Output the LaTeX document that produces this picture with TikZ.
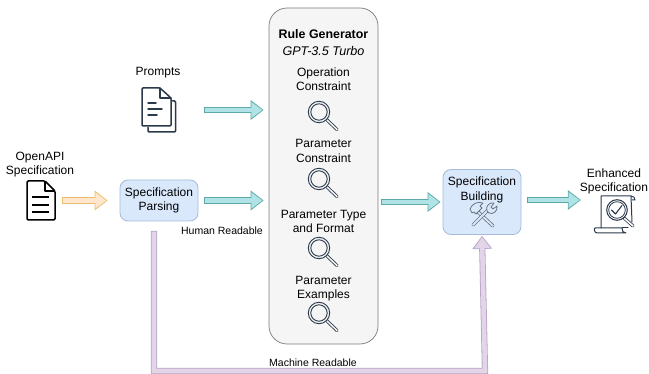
\documentclass[tikz,border=0pt]{standalone}
\usepackage{fontspec}
\setmainfont{Liberation Sans}
\usetikzlibrary{arrows.meta}
\definecolor{tealD}{HTML}{5FA8A8}
\definecolor{tealL}{HTML}{B0E3E6}
\definecolor{orangeD}{HTML}{E9BE6C}
\definecolor{orangeL}{HTML}{FFE6CC}
\definecolor{purpleD}{HTML}{B8A2C8}
\definecolor{purpleL}{HTML}{E1D5E7}
\definecolor{blueD}{HTML}{A3BBD8}
\definecolor{blueL}{HTML}{DAE8FC}
\definecolor{slateI}{HTML}{2B3A4A}
\definecolor{panelF}{HTML}{F5F5F5}
\definecolor{panelD}{HTML}{7A7A7A}
\tikzset{
  x=1pt,y=-1pt,
  lbl/.style={font=\fontsize{12}{14.3}\selectfont,align=center,text=black,inner sep=0pt,yshift=-1.5pt},
  smalllbl/.style={font=\fontsize{10.5}{12}\selectfont,align=center,text=black,inner sep=0pt,yshift=-1pt},
  bluebox/.style={draw=blueD,fill=blueL,line width=0.8pt,rounded corners=8pt,minimum width=#1,inner sep=0pt},
  anchorbox/.style={inner sep=0pt,minimum width=#1},
  flex/.style 2 args={
    preaction={draw=#1,line width=6.2pt,line join=miter,shorten >=0pt,shorten <=0pt,
      -{Triangle[length=13pt,width=19pt]}},
    draw=#2,line width=4.6pt,line join=miter,shorten >=1.3pt,shorten <=0.8pt,
    -{Triangle[length=11pt,width=15.5pt]}},
  tealarrow/.style={flex={tealD}{tealL}},
  orangearrow/.style={flex={orangeD}{orangeL}},
  purplearrow/.style={flex={purpleD}{purpleL}},
  icon/.style={draw=slateI,line width=1.5pt,line join=round,line cap=round},
  pics/lens/.style={code={
    \draw[slateI,line width=3.2pt,line cap=round] (7.5,7.5) -- (18,17.5);
    \draw[panelF,line width=1.5pt,line cap=round] (8,8) -- (18,17.5);
    \draw[slateI,line width=0.9pt,fill=panelF] (0,0) circle[radius=10.7];
    \draw[slateI,line width=0.9pt] (0,0) circle[radius=8.2];
  }},
}
\begin{document}
\begin{tikzpicture}
\useasboundingbox (0,0) rectangle (649,374);
% panel
\node (rule) [draw=panelD,fill=panelF,line width=0.7pt,rounded corners=18pt,minimum width=109pt,minimum height=336pt,inner sep=0pt] at (323.5,176) {};
\node (parsing) [bluebox=78pt,minimum height=41pt,lbl,yshift=1.5pt] at (159,200.5) {Specification\\Parsing};
\node (building) [bluebox=78pt,minimum height=65pt] at (482,202) {};
% labels
\node (opena) [lbl] at (40,163) {OpenAPI\\Specification};
\node (prompts) [lbl] at (158,71) {Prompts};
\node (rgtitle) [lbl,font=\fontsize{12.4}{14}\selectfont\bfseries] at (323.5,33) {Rule Generator};
\node (rgmodel) [lbl,font=\fontsize{12.6}{14}\selectfont\itshape] at (323.5,49) {GPT-3.5 Turbo};
\node (c1) [lbl] at (323.5,78) {Operation\\Constraint};
\node (c2) [lbl] at (323.5,149.5) {Parameter\\Constraint};
\node (c3) [lbl] at (323.5,220) {Parameter Type\\and Format};
\node (c4) [lbl] at (323.5,287) {Parameter\\Examples};
\node (bl) [lbl] at (482,188.5) {Specification\\Building};
\node (enh) [lbl] at (614,180) {Enhanced\\Specification};
\node (hr) [smalllbl] at (222,230) {Human Readable};
\node (mr) [smalllbl] at (313,362) {Machine Readable};
% lenses
\pic at (319,112) {lens};
\pic at (319,179) {lens};
\pic at (319,248) {lens};
\pic at (319,313) {lens};
% icon anchors
\node (docA) [anchorbox=29pt,minimum height=39pt] at (40.5,200.5) {};
\node (docB) [anchorbox=35pt,minimum height=44pt] at (158.5,110) {};
\node (enhicon) [anchorbox=41pt,minimum height=38pt] at (614.5,200) {};
\coordinate (mid) at (154,371);
\coordinate (mid2) at (485,371);
% OpenAPI document
\draw[draw=black,line width=1.5pt,line join=round,rounded corners=1.2pt] (45,181) -- (27,181) -- (27,220) -- (55,220) -- (55,191) -- cycle;
\draw[draw=black,line width=1.3pt,line join=round] (45,181) -- (45,191) -- (55,191);
\foreach \yy in {197,205,212} \draw[black,line width=1.4pt] (32,\yy) -- (49,\yy);
% Prompts document
\draw[icon,rounded corners=1pt] (160,88) -- (142,88) -- (142,126) -- (171,126) -- (171,98) -- cycle;
\draw[icon] (160,88) -- (160,98) -- (171,98);
\draw[icon,rounded corners=1pt] (172.5,101) -- (175.5,101) -- (175.5,132) -- (148,132) -- (148,127.5);
\draw[icon] (148,103) -- (156,103);
\draw[icon] (148,109) -- (162,109);
\draw[icon] (148,115) -- (157,115);
% tools
\begin{scope}[line cap=round,line join=round]
  \draw[slateI!70,line width=3.4pt] (477,211) -- (493,226);
  \draw[blueL,line width=1.8pt] (477,211) -- (493,226);
  \draw[slateI!70,line width=3.4pt] (473,225) -- (489,209);
  \draw[blueL,line width=1.8pt] (473,225) -- (489,209);
  \draw[slateI!70,line width=0.8pt,fill=blueL] (470,209) .. controls (472,204) and (477,201) .. (483,203) -- (480,206) -- (482,208) -- (476,214) -- (474,212) -- (472,213) -- cycle;
  \draw[slateI!70,line width=0.8pt,fill=blueL] (487,211) .. controls (485,206) and (490,202) .. (494,203) -- (491,207) -- (493,209) -- (497,206) .. controls (498,211) and (493,215) .. (489,213) -- cycle;
\end{scope}
% enhanced icon
\begin{scope}[line join=round,line cap=round]
  \draw[icon,line width=1pt] (601,228) -- (601,196) -- (631,196) .. controls (634,196) and (635,198) .. (635,200) -- (632,200);
  \draw[icon,line width=1pt] (631,196) -- (632,222);
  \draw[icon,line width=1pt] (595,228) -- (622,228) .. controls (622,231) and (623,233) .. (626,233) -- (597,233) .. controls (594,233) and (594,228) .. (595,228);
  \draw[icon,line width=1pt] (622,228) -- (628,228);
  \draw[slateI,line width=3.2pt] (624,218) -- (633,226);
  \draw[white,line width=1.6pt] (624.5,218.5) -- (633,226);
  \draw[icon,line width=1pt,fill=white] (617,210) circle[radius=10.3];
  \draw[icon,line width=0.8pt] (617,210) circle[radius=8.3];
  \draw[icon,line width=1.1pt] (611.5,210) -- (615.5,214) -- (622,205.5);
\end{scope}
% connectors
\draw[orangearrow] ([xshift=6.5pt]docA.east) -- ([xshift=-12pt]parsing.west);
\draw[tealarrow] ([xshift=28pt]docB.east) -- ([xshift=-5pt]rule.west|-docB.east);
\draw[tealarrow] ([xshift=6pt]parsing.east) -- ([xshift=-5pt]rule.west|-parsing.east);
\draw[tealarrow] ([xshift=3pt]rule.east|-building.west) -- ([xshift=-2pt]building.west);
\draw[tealarrow] ([xshift=6pt,yshift=2pt]building.east) -- ([xshift=-13pt]enhicon.west);
\draw[purplearrow] (parsing.south-|mid) ++(0,9.5) -- (mid) -- (mid2) -- ([yshift=-1pt]building.south);
\end{tikzpicture}
\end{document}
